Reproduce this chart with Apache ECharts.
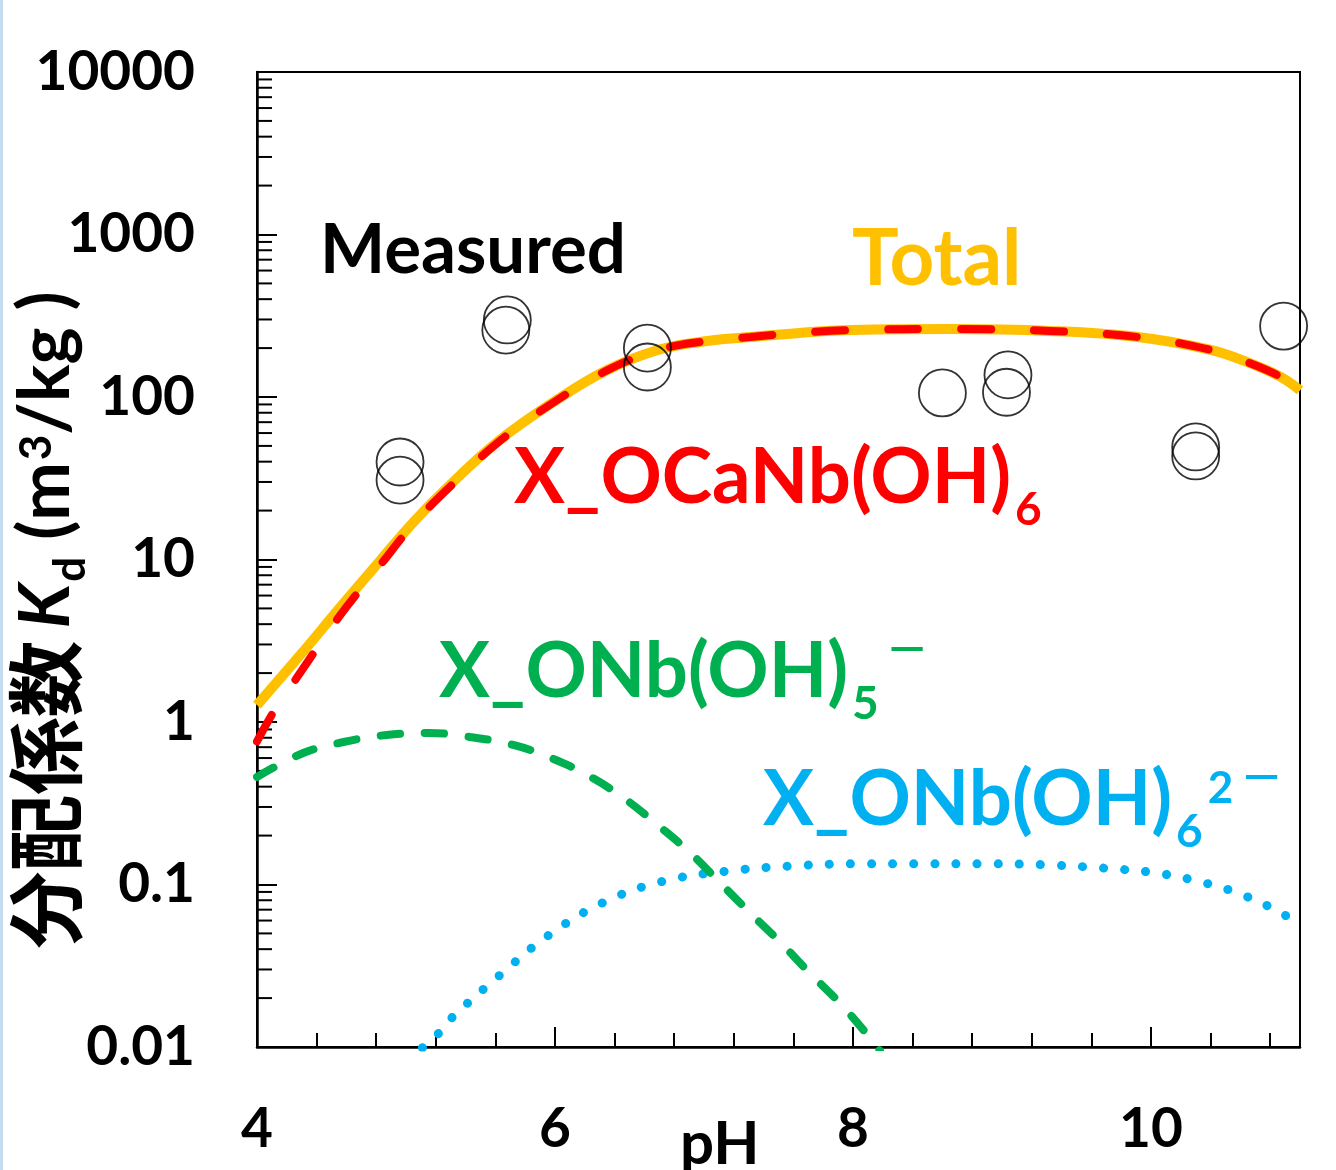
<!DOCTYPE html>
<html>
<head>
<meta charset="utf-8">
<script src="https://cdn.jsdelivr.net/npm/echarts/dist/echarts.min.js"></script>
<style>
  html, body { margin: 0; padding: 0; background: #fff; }
  #chart { width: 1336px; height: 1170px; }
</style>
</head>
<body>
<div id="chart"></div>
<script>
// ---------- data ----------
const measuredPH = [4.96, 4.96, 5.68, 5.67, 6.62, 6.62, 8.60, 9.04, 9.03, 10.30, 10.30, 10.89];
const measuredKd = [39.8, 30.8, 298, 258, 200, 153, 106, 137, 107, 49.3, 43.4, 273];

const totalPH = [4.0, 4.29, 4.56, 4.83, 5.05, 5.28, 5.63, 6.01, 6.35, 6.69, 6.97, 7.31, 7.64, 8.0, 8.65, 9.32, 9.91, 10.40, 10.66, 10.87, 11.0];
const totalKd = [1.27, 2.58, 5.10, 9.93, 17.0, 27.9, 54.4, 95.8, 146.6, 194.5, 218, 234, 248, 258, 262, 255, 234, 195, 162, 133, 110];

const caPH = [4.0, 4.12, 4.27, 4.55, 4.83, 5.05, 5.28, 5.63, 6.01, 6.35, 6.69, 6.97, 7.31, 7.64, 8.0, 8.65, 9.32, 9.91, 10.40, 10.66, 10.87, 11.0];
const caKd = [0.76, 1.19, 1.89, 4.43, 9.3, 16.5, 27.2, 53.7, 95.2, 146, 194, 218, 234, 248, 258, 262, 255, 234, 195, 162, 133, 110];

const nb5PH = [4.0, 4.31, 4.58, 4.87, 5.15, 5.43, 5.72, 5.99, 6.24, 6.47, 6.69, 6.91, 7.11, 7.31, 7.51, 7.71, 7.91, 8.11, 8.18];
const nb5Kd = [0.459, 0.644, 0.753, 0.832, 0.856, 0.809, 0.722, 0.592, 0.459, 0.336, 0.232, 0.156, 0.102, 0.0668, 0.0443, 0.0285, 0.0187, 0.0115, 0.0095];

const nb6PH = [5.11, 5.21, 5.30, 5.63, 5.96, 6.33, 6.73, 7.16, 7.59, 8.02, 8.45, 8.88, 9.31, 9.74, 10.03, 10.31, 10.58, 10.85, 11.0];
const nb6Kd = [0.0099, 0.0119, 0.0149, 0.0277, 0.0489, 0.078, 0.105, 0.121, 0.130, 0.134, 0.134, 0.134, 0.132, 0.125, 0.118, 0.105, 0.0887, 0.0687, 0.0563];

// axis tick labels
const yTickLabels = ['0.01', '0.1', '1', '10', '100', '1000', '10000'];
const yDecades = [0.01, 0.1, 1, 10, 100, 1000];
const yMinorMultipliers = [2, 3, 4, 5, 6, 7, 8, 9];
const xLabelValues = [4, 6, 8, 10];

// ---------- helpers ----------
const zip = (xs, ys) => xs.map((x, i) => [x, ys[i]]);
const minorTicks = [];
yDecades.forEach(d => yMinorMultipliers.forEach(m => minorTicks.push([4, m * d])));

const LATIN = 'Lato';
const CJK = '"Noto Sans CJK JP"';

function annoRich(color) {
  const base = { fill: color, color: color, fontFamily: LATIN, fontWeight: 'bold' };
  return {
    m: Object.assign({}, base, { fontSize: 76, lineHeight: 103, padding: [10, 0, 0, 0], verticalAlign: 'top' }),
    sub: Object.assign({}, base, { fontSize: 46, lineHeight: 46, padding: [0, 0, 0, 4], verticalAlign: 'bottom' }),
    sup: Object.assign({}, base, { fontSize: 44, lineHeight: 44, padding: [15, 0, 0, 5], verticalAlign: 'top' }),
    minus: Object.assign({}, base, { fontSize: 46, lineHeight: 46, padding: [1, 0, 0, 10], verticalAlign: 'top' })
  };
}

const chart = echarts.init(document.getElementById('chart'), null, { renderer: 'canvas' });

const option = {
  backgroundColor: '#ffffff',
  animation: false,
  grid: {
    left: 257, right: 36, top: 72, bottom: 123,
    show: true, borderColor: '#000', borderWidth: 2, backgroundColor: 'transparent'
  },
  xAxis: [
    {
      type: 'value', min: 4, max: 11, interval: 0.4, position: 'bottom',
      axisLine: { show: true, onZero: false, lineStyle: { color: '#000', width: 2.5 } },
      axisTick: { show: true, inside: true, length: 14, lineStyle: { color: '#000', width: 2 } },
      axisLabel: { show: false },
      splitLine: { show: false }
    },
    {
      type: 'value', min: 4, max: 11, interval: 2, position: 'bottom',
      axisLine: { show: false, onZero: false },
      axisTick: { show: true, inside: true, length: 20, lineStyle: { color: '#000', width: 2 } },
      axisLabel: {
        show: true, margin: 55, showMaxLabel: false,
        color: '#000', fontSize: 55, fontWeight: 'bold', fontFamily: LATIN,
        formatter: v => (xLabelValues.indexOf(Math.round(v)) >= 0 && Math.abs(v - Math.round(v)) < 1e-6) ? String(Math.round(v)) : ''
      },
      splitLine: { show: false }
    }
  ],
  yAxis: {
    type: 'log', logBase: 10, min: 0.01, max: 10000,
    axisLine: { show: true, onZero: false, lineStyle: { color: '#000', width: 2.5 } },
    axisTick: { show: true, inside: true, length: 20, lineStyle: { color: '#000', width: 2 } },
    axisLabel: {
      show: true, margin: 62, color: '#000', fontSize: 55, fontWeight: 'bold', fontFamily: LATIN,
      formatter: v => { const i = Math.round(Math.log10(v)) + 2; return yTickLabels[i] || ''; }
    },
    splitLine: { show: false },
    minorTick: { show: false }
  },
  series: [
    {
      name: 'minorTicks', type: 'custom', silent: true, clip: false, z: 1,
      data: minorTicks,
      renderItem: (params, api) => {
        const p = api.coord([api.value(0), api.value(1)]);
        return { type: 'line', shape: { x1: p[0], y1: p[1], x2: p[0] + 15, y2: p[1] }, style: { stroke: '#000', lineWidth: 2 } };
      }
    },
    {
      name: 'X_ONb(OH)6 2-', type: 'line', data: zip(nb6PH, nb6Kd), smooth: 0.4, showSymbol: false, clip: true, z: 2,
      lineStyle: { color: '#00B0F0', width: 9, type: [0.1, 21], cap: 'round' }
    },
    {
      name: 'X_ONb(OH)5 -', type: 'line', data: zip(nb5PH, nb5Kd), smooth: 0.4, showSymbol: false, clip: true, z: 3,
      lineStyle: { color: '#00B050', width: 8, type: [19, 25], cap: 'round' }
    },
    {
      name: 'Total', type: 'line', data: zip(totalPH, totalKd), smooth: 0.4, showSymbol: false, clip: true, z: 4,
      lineStyle: { color: '#FFC000', width: 10 }
    },
    {
      name: 'X_OCaNb(OH)6', type: 'line', data: zip(caPH, caKd), smooth: 0.4, showSymbol: false, clip: true, z: 5,
      lineStyle: { color: '#FF0000', width: 8, type: [30, 43], cap: 'round' }
    },
    {
      name: 'Measured', type: 'scatter', data: zip(measuredPH, measuredKd), symbol: 'circle', symbolSize: 47, z: 6,
      itemStyle: { color: 'rgba(0,0,0,0)', borderColor: '#000', borderWidth: 1.8 }
    }
  ],
  graphic: [
    { type: 'rect', shape: { x: 0, y: 0, width: 3, height: 1170 }, style: { fill: '#c5dcf0' }, silent: true },
    {
      type: 'text', x: 320, y: 251,
      style: { text: 'Measured', fill: '#000', fontFamily: LATIN, fontWeight: 'bold', fontSize: 69, align: 'left', verticalAlign: 'middle' }
    },
    {
      type: 'text', x: 852, y: 260,
      style: { text: 'Total', fill: '#FFC000', fontFamily: LATIN, fontWeight: 'bold', fontSize: 78, align: 'left', verticalAlign: 'middle' }
    },
    {
      type: 'text', x: 514, y: 430,
      style: { text: '{m|X_OCaNb(OH)}{sub|6}', rich: annoRich('#FF0000'), fill: '#FF0000', align: 'left', verticalAlign: 'top' }
    },
    {
      type: 'text', x: 439, y: 624,
      style: { text: '{m|X_ONb(OH)}{sub|5}{minus|—}', rich: annoRich('#00B050'), fill: '#00B050', align: 'left', verticalAlign: 'top' }
    },
    {
      type: 'text', x: 763, y: 752,
      style: { text: '{m|X_ONb(OH)}{sub|6}{sup|2}{minus|—}', rich: annoRich('#00B0F0'), fill: '#00B0F0', align: 'left', verticalAlign: 'top' }
    },
    {
      type: 'text', x: 680, y: 1145,
      style: { text: 'pH', fill: '#000', fontFamily: LATIN, fontWeight: 'bold', fontSize: 60, align: 'left', verticalAlign: 'middle' }
    },
    {
      type: 'text', x: 7, y: 620, rotation: Math.PI / 2,
      style: {
        text: '{cjk|分配係数}{it|K}{sub|d}{m| (m}{sup|3}{m|/kg )}',
        fill: '#000', align: 'center', verticalAlign: 'top',
        rich: {
          cjk: { fill: '#000', fontFamily: CJK, fontWeight: 'bold', fontSize: 77, lineHeight: 77, padding: [0, 12, 0, 0], verticalAlign: 'top' },
          it: { fill: '#000', fontFamily: LATIN, fontStyle: 'italic', fontWeight: 'bold', fontSize: 70, lineHeight: 86, padding: [4, 0, 0, 0], verticalAlign: 'top' },
          sub: { fill: '#000', fontFamily: LATIN, fontWeight: 'bold', fontSize: 44, lineHeight: 44, padding: [0, 0, 0, 2], verticalAlign: 'bottom' },
          m: { fill: '#000', fontFamily: LATIN, fontWeight: 'bold', fontSize: 70, lineHeight: 86, padding: [4, 0, 0, 0], verticalAlign: 'top' },
          sup: { fill: '#000', fontFamily: LATIN, fontWeight: 'bold', fontSize: 44, lineHeight: 44, padding: [8, 0, 0, 2], verticalAlign: 'top' }
        }
      }
    }
  ]
};

chart.setOption(option);
</script>
</body>
</html>
